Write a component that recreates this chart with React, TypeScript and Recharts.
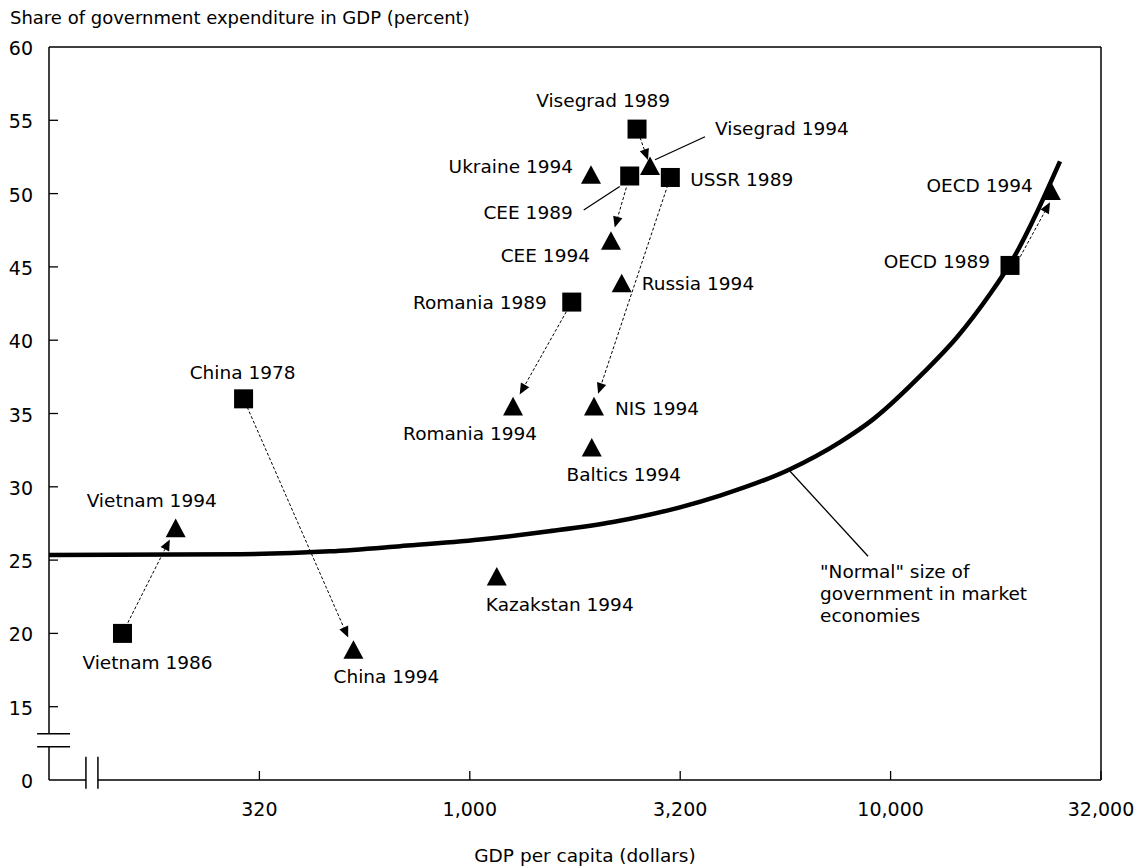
import React from 'react';
import { ComposedChart, XAxis, YAxis, Line, Scatter, ReferenceLine, ReferenceDot } from 'recharts';

const FONT = '"DejaVu Sans", "Liberation Sans", sans-serif';

// ---------- data ----------
const startLabels = ['Vietnam 1986', 'China 1978', 'Romania 1989', 'CEE 1989', 'Visegrad 1989', 'USSR 1989', 'OECD 1989'];
const startGdp = [149.5, 290, 1747, 2399, 2497, 2996, 19220];
const startShare = [20.0, 36.0, 42.6, 51.2, 54.4, 51.1, 45.1];

const endLabels = ['Vietnam 1994', 'China 1994', 'Kazakstan 1994', 'Romania 1994', 'Ukraine 1994', 'NIS 1994', 'Baltics 1994', 'CEE 1994', 'Russia 1994', 'Visegrad 1994', 'OECD 1994'];
const endGdp = [200, 529, 1159, 1267, 1941, 1973, 1949, 2165, 2296, 2681, 24030];
const endShare = [27.2, 18.9, 23.9, 35.5, 51.3, 35.5, 32.7, 46.8, 43.9, 51.9, 50.2];

const arrowFrom = ['Vietnam 1986', 'China 1978', 'Romania 1989', 'USSR 1989', 'CEE 1989', 'Visegrad 1989', 'OECD 1989'];
const arrowTo = ['Vietnam 1994', 'China 1994', 'Romania 1994', 'NIS 1994', 'CEE 1994', 'Visegrad 1994', 'OECD 1994'];

const curveGdp = [100, 284, 465, 683, 1057, 1526, 2190, 3158, 3932, 5768, 7582, 9084, 11940, 14380, 17230, 19220, 25270];
const curveShare = [25.35, 25.4, 25.6, 25.95, 26.4, 26.95, 27.6, 28.6, 29.4, 31.2, 33.05, 34.6, 37.75, 40.2, 43.15, 45.2, 52.2];

const xTickValues = [316.23, 1000, 3162.3, 10000, 31622.8];
const xTickLabels = ['320', '1,000', '3,200', '10,000', '32,000'];
const yTickValues = [10, 15, 20, 25, 30, 35, 40, 45, 50, 55, 60];
const yTickLabels = ['0', '15', '20', '25', '30', '35', '40', '45', '50', '55', '60'];

const curveNoteLines = ['"Normal" size of', 'government in market', 'economies'];
const yTitle = 'Share of government expenditure in GDP (percent)';
const xTitle = 'GDP per capita (dollars)';

// ---------- tables built from the arrays ----------
const startData = startLabels.map((name, i) => ({ name, gdp: startGdp[i], share: startShare[i] }));
const endData = endLabels.map((name, i) => ({ name, gdp: endGdp[i], share: endShare[i] }));
const curveData = curveGdp.map((gdp, i) => ({ gdp, share: curveShare[i] }));
const allPoints = [...startData, ...endData];
const findPoint = (name: string) => allPoints.find((p) => p.name === name)!;

// ---------- layout / style config ----------
type Place = { dx: number; dy: number; anchor: 'start' | 'middle' | 'end'; leader?: [number, number, number, number] };
const labelPlacement: Record<string, Place> = {
  'Vietnam 1986': { dx: 25, dy: 29, anchor: 'middle' },
  'Vietnam 1994': { dx: -24, dy: -28, anchor: 'middle' },
  'China 1978': { dx: -1, dy: -27, anchor: 'middle' },
  'China 1994': { dx: 33, dy: 27, anchor: 'middle' },
  'Kazakstan 1994': { dx: 63, dy: 28, anchor: 'middle' },
  'Romania 1989': { dx: -25, dy: 0, anchor: 'end' },
  'Romania 1994': { dx: -43, dy: 27, anchor: 'middle' },
  'NIS 1994': { dx: 21, dy: 2, anchor: 'start' },
  'Baltics 1994': { dx: 32, dy: 27, anchor: 'middle' },
  'Russia 1994': { dx: 20, dy: 0, anchor: 'start' },
  'CEE 1994': { dx: -21, dy: 15, anchor: 'end' },
  'CEE 1989': { dx: -57, dy: 36, anchor: 'end', leader: [-46, 34, -10, 10.5] },
  'Ukraine 1994': { dx: -18, dy: -8, anchor: 'end' },
  'Visegrad 1989': { dx: 33, dy: -29, anchor: 'end' },
  'Visegrad 1994': { dx: 65, dy: -37, anchor: 'start', leader: [5, -6, 55, -29] },
  'USSR 1989': { dx: 20, dy: 2, anchor: 'start' },
  'OECD 1989': { dx: -20, dy: -4, anchor: 'end' },
  'OECD 1994': { dx: -18, dy: -5, anchor: 'end' },
};
// [trim at start, trim at end, sideways shift] in px
const arrowTrim: [number, number, number][] = [[12, 13, 0], [9, 13, 0], [11, 13.5, 0], [8, 13, 0], [12, 13.5, 0], [9, 6, 0], [12.5, 10.5, 4.8]];

const LABEL_SIZE = 18.5;
const CAP_HALF = LABEL_SIZE * 0.729 / 2;

const renderLabel = (cx: number, cy: number, name: string) => {
  const p = labelPlacement[name];
  if (!p) return null;
  return (
    <g>
      {p.leader && (
        <line x1={cx + p.leader[0]} y1={cy + p.leader[1]} x2={cx + p.leader[2]} y2={cy + p.leader[3]} stroke="#000" strokeWidth={1.3} />
      )}
      <text x={cx + p.dx} y={cy + p.dy + CAP_HALF} textAnchor={p.anchor} fontFamily={FONT} fontSize={LABEL_SIZE} fill="#000">
        {name}
      </text>
    </g>
  );
};

const SquareShape = (props: any) => {
  const { cx, cy, payload } = props;
  return (
    <g>
      <rect x={cx - 9.5} y={cy - 9.5} width={19} height={19} fill="#000" />
      {renderLabel(cx, cy, payload.name)}
    </g>
  );
};

const TriangleShape = (props: any) => {
  const { cx, cy, payload } = props;
  return (
    <g>
      <polygon points={`${cx},${cy - 9.3} ${cx - 10},${cy + 9.3} ${cx + 10},${cy + 9.3}`} fill="#000" />
      {renderLabel(cx, cy, payload.name)}
    </g>
  );
};

const makeArrow = (t0: number, t1: number, side: number) => (props: any) => {
  const { x1, y1, x2, y2 } = props;
  const dx = x2 - x1;
  const dy = y2 - y1;
  const len = Math.hypot(dx, dy) || 1;
  const ux = dx / len;
  const uy = dy / len;
  const px = -uy;
  const py = ux;
  const sx = x1 + ux * t0 + px * side;
  const sy = y1 + uy * t0 + py * side;
  const ex = x2 - ux * t1 + px * side;
  const ey = y2 - uy * t1 + py * side;
  const head = 11;
  const hw = 4.8;
  const bx = ex - ux * head;
  const by = ey - uy * head;
  return (
    <g>
      <line x1={sx} y1={sy} x2={bx} y2={by} stroke="#000" strokeWidth={1} strokeDasharray="3 2" />
      <polygon points={`${ex},${ey} ${bx + px * hw},${by + py * hw} ${bx - px * hw},${by - py * hw}`} fill="#000" />
    </g>
  );
};

const XTick = (props: any) => {
  const { x, y, payload } = props;
  const i = xTickValues.indexOf(payload.value);
  return (
    <g>
      <line x1={x} y1={y} x2={x} y2={y - 9} stroke="#000" strokeWidth={1.3} />
      <text x={x} y={y + 35.5} textAnchor="middle" fontFamily={FONT} fontSize={19} fill="#000">
        {i >= 0 ? xTickLabels[i] : payload.value}
      </text>
    </g>
  );
};

const YTick = (props: any) => {
  const { x, y, payload } = props;
  const i = yTickValues.indexOf(payload.value);
  const ax = x + 16;
  return (
    <g>
      {payload.value !== 10 && payload.value !== 60 && (
        <line x1={ax} y1={y} x2={ax + 9} y2={y} stroke="#000" strokeWidth={1.3} />
      )}
      <text x={x} y={y + 8} textAnchor="end" fontFamily={FONT} fontSize={19} fill="#000">
        {i >= 0 ? yTickLabels[i] : payload.value}
      </text>
    </g>
  );
};

const CurveNote = (props: any) => {
  const { cx, cy } = props;
  return (
    <g>
      <line x1={cx} y1={cy + 2} x2={cx + 78} y2={cy + 87} stroke="#000" strokeWidth={1.3} />
      {curveNoteLines.map((t, i) => (
        <text key={t} x={cx + 30} y={cy + 102 + i * 22 + CAP_HALF} fontFamily={FONT} fontSize={LABEL_SIZE} fill="#000">
          {t}
        </text>
      ))}
    </g>
  );
};

// axis frame pieces (data units) incl. the broken-axis marks
const X_MIN = 100;
const X_MAX = 31622.8;
const Y_MIN = 10;
const Y_MAX = 60;
const yBreak = [12.27, 13.16];
const xBreak = [122.4, 130.7];
const yBreakMarkX = [93.7, 112.2];
const xBreakMarkY = [9.41, 11.59];

const frame = (segs: { x: number; y: number }[][], sw = 1.5) =>
  segs.map((s, i) => (
    <ReferenceLine key={'f' + i} segment={s as any} stroke="#000" strokeWidth={sw} ifOverflow="visible" />
  ));

export default function App() {
  const frameSegs = [
    [{ x: X_MIN, y: Y_MIN }, { x: X_MIN, y: yBreak[0] }],
    [{ x: X_MIN, y: yBreak[1] }, { x: X_MIN, y: Y_MAX }],
    [{ x: X_MIN, y: Y_MAX }, { x: X_MAX, y: Y_MAX }],
    [{ x: X_MAX, y: Y_MAX }, { x: X_MAX, y: Y_MIN }],
    [{ x: X_MIN, y: Y_MIN }, { x: xBreak[0], y: Y_MIN }],
    [{ x: xBreak[1], y: Y_MIN }, { x: X_MAX, y: Y_MIN }],
    [{ x: yBreakMarkX[0], y: yBreak[0] }, { x: yBreakMarkX[1], y: yBreak[0] }],
    [{ x: yBreakMarkX[0], y: yBreak[1] }, { x: yBreakMarkX[1], y: yBreak[1] }],
    [{ x: xBreak[0], y: xBreakMarkY[0] }, { x: xBreak[0], y: xBreakMarkY[1] }],
    [{ x: xBreak[1], y: xBreakMarkY[0] }, { x: xBreak[1], y: xBreakMarkY[1] }],
  ];
  return (
    <div style={{ position: 'absolute', left: 0, top: 0, width: 1138, height: 866, background: '#fff' }}>
      <ComposedChart
        width={1138}
        height={866}
        margin={{ top: 47, right: 37, bottom: 0, left: 0 }}
        style={{ fontFamily: FONT }}
      >
        <XAxis
          type="number"
          dataKey="gdp"
          scale="log"
          domain={[X_MIN, X_MAX]}
          ticks={xTickValues}
          allowDataOverflow
          interval={0}
          height={86}
          axisLine={false}
          tickLine={false}
          tickSize={0}
          tickMargin={0}
          tick={XTick}
        />
        <YAxis
          type="number"
          dataKey="share"
          domain={[Y_MIN, Y_MAX]}
          ticks={yTickValues}
          allowDataOverflow
          interval={0}
          width={49}
          axisLine={false}
          tickLine={false}
          tickSize={0}
          tickMargin={16}
          tick={YTick}
        />
        {frame(frameSegs)}
        <Line
          data={curveData}
          dataKey="share"
          type="monotone"
          stroke="#000"
          strokeWidth={4.5}
          dot={false}
          activeDot={false}
          isAnimationActive={false}
        />
        {arrowFrom.map((from, i) => {
          const a = findPoint(from);
          const b = findPoint(arrowTo[i]);
          return (
            <ReferenceLine
              key={'a' + i}
              segment={[{ x: a.gdp, y: a.share }, { x: b.gdp, y: b.share }] as any}
              ifOverflow="visible"
              shape={makeArrow(arrowTrim[i][0], arrowTrim[i][1], arrowTrim[i][2])}
            />
          );
        })}
        <ReferenceDot x={curveGdp[9]} y={curveShare[9]} r={0} ifOverflow="visible" shape={CurveNote} />
        <Scatter data={startData} shape={SquareShape} isAnimationActive={false} />
        <Scatter data={endData} shape={TriangleShape} isAnimationActive={false} />
      </ComposedChart>
      <svg width={1138} height={866} style={{ position: 'absolute', left: 0, top: 0, pointerEvents: 'none' }}>
        <text x={10} y={23.5} fontFamily={FONT} fontSize={18} fill="#000">{yTitle}</text>
        <text x={585} y={862} textAnchor="middle" fontFamily={FONT} fontSize={18.5} fill="#000">{xTitle}</text>
      </svg>
    </div>
  );
}
